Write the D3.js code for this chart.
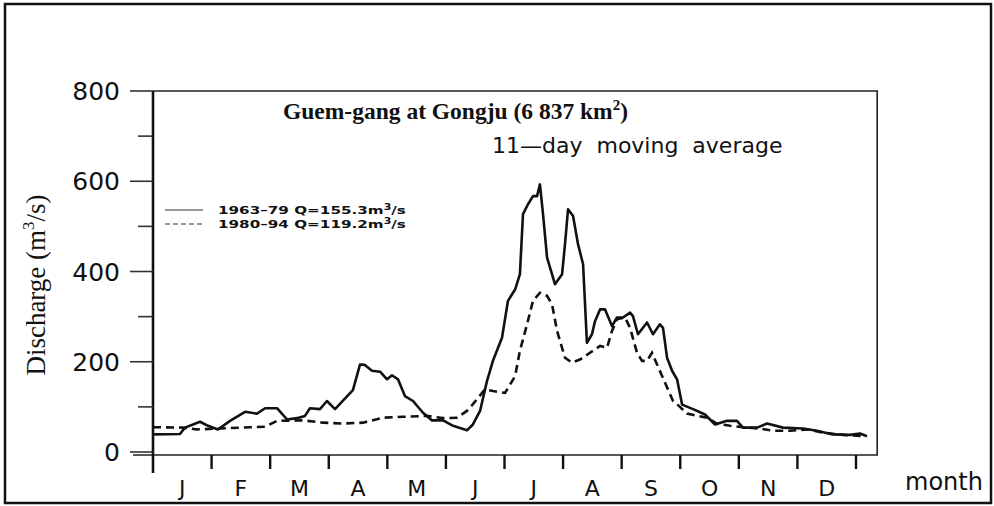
<!DOCTYPE html>
<html>
<head>
<meta charset="utf-8">
<script src="https://cdn.jsdelivr.net/npm/d3@7"></script>
<style>
  body { margin: 0; background: #fff; }
  svg { display: block; }
  .sans { font-family: 'DejaVu Sans', sans-serif; }
  .serif { font-family: 'Liberation Serif', 'Times New Roman', serif; }
</style>
</head>
<body>
<svg width="994" height="506"></svg>
<script>
// Data (day of year, discharge m3/s)
const months = ['J', 'F', 'M', 'A', 'M', 'J', 'J', 'A', 'S', 'O', 'N', 'D'];
const yTicks = [0, 200, 400, 600, 800];
const yMinor = [100, 300, 500, 700];

// 1963-79 (solid)
const earlyDay = [0, 14, 16.6, 24.4, 28.6, 33.7, 40, 47.8, 54, 58.2, 64.4, 69.6, 74.7, 78.9, 81.5, 86.7, 90.3, 94.5,
  103.8, 107.5, 110, 113.7, 117.9, 121.5, 124.1, 127.2, 130.8, 135, 140.2, 144.9, 150.6, 155.8, 163, 166.1, 169.8,
  173.4, 176.5, 181.2, 184.3, 188, 190.5, 192.1, 194.7, 197.3, 199.4, 200.9, 202.5, 204.6, 208.7, 212.4, 213.9,
  215.5, 218.1, 220.7, 223.3, 225.3, 227.9, 229.5, 232.1, 234.7, 238.3, 240.9, 244, 247.7, 249.2, 251.8, 256.5,
  259.6, 263.2, 264.8, 266.9, 269.5, 272.1, 274.7, 280.4, 286.6, 291.8, 298, 303.2, 306.3, 313.6, 318.8, 327.1,
  337.5, 344.7, 353, 361.9, 367.1, 370.7];
const earlyQ = [39, 40, 54, 67, 58, 50, 69, 89, 85, 97, 97, 72, 75, 80, 97, 95, 113, 95,
  137, 194, 193, 180, 178, 161, 170, 161, 124, 113, 87, 70, 70, 58, 48, 61, 91,
  157, 202, 253, 335, 360, 394, 527, 549, 567, 567, 593, 527, 431, 372, 394, 460,
  538, 523, 460, 416, 242, 261, 290, 316, 316, 279, 298, 298, 309, 301, 261, 287,
  261, 283, 275, 209, 180, 161, 105, 95, 83, 61, 69, 69, 54, 54, 63, 54,
  52, 47, 39, 38, 41, 35];

// 1980-94 (dashed)
const lateDay = [0, 15.6, 22.8, 34.8, 50.4, 58.2, 64.4, 77.9, 88.3, 98.6, 109, 119.4, 129.8, 142.3, 150.6, 157.8,
  163, 166.1, 172.4, 176.5, 182.8, 188, 190.5, 194.2, 197.3, 200.9, 204.6, 207.2, 209.8, 213.9, 217.5, 221.7,
  226.9, 232.1, 235.7, 238.3, 240.9, 245.1, 247.7, 251.3, 253.9, 256.5, 259.1, 261.7, 265.8, 270, 273.6, 277.3,
  287.6, 292.8, 299.6, 306.3, 315.1, 321.9, 330.7, 339.6, 347.9, 358.2, 368.6];
const lateQ = [55, 54, 50, 52, 55, 56, 69, 70, 65, 63, 65, 76, 78, 80, 75, 76,
  91, 106, 139, 135, 131, 168, 224, 283, 335, 353, 346, 327, 268, 209, 198, 205,
  220, 235, 231, 268, 294, 298, 275, 220, 202, 202, 220, 194, 154, 113, 100, 85,
  76, 63, 58, 55, 52, 47, 47, 50, 43, 38, 35];

const legendRows = [
  { label: '1963\u201379  Q=155.3m', dash: null },
  { label: '1980\u201394  Q=119.2m', dash: '5,3' }
];

const svg = d3.select('svg');

// Scales
const x = d3.scaleLinear().domain([0, 365]).range([153, 856]);
const y = d3.scaleLinear().domain([0, 800]).range([452, 91]);
const xEnd = x(376);

// Outer frame
svg.append('rect')
    .attr('x', 5).attr('y', 4)
    .attr('width', 986).attr('height', 499)
    .attr('fill', 'none')
    .attr('stroke', '#111')
    .attr('stroke-width', 2.5);

// Plot box (top, right, bottom)
svg.append('path')
    .attr('d', `M${x(0)},${y(800)} H${xEnd} V${y(0) + 3} H${x(0) - 20}`)
    .attr('fill', 'none')
    .attr('stroke', '#222')
    .attr('stroke-width', 1.6);

// Y axis
svg.append('line')
    .attr('x1', x(0)).attr('x2', x(0))
    .attr('y1', y(800)).attr('y2', y(0) + 21)
    .attr('stroke', '#111')
    .attr('stroke-width', 2.6);

svg.append('g').selectAll('line')
  .data(yTicks)
  .enter().append('line')
    .attr('x1', x(0) - 23).attr('x2', x(0))
    .attr('y1', d => y(d)).attr('y2', d => y(d))
    .attr('stroke', '#333')
    .attr('stroke-width', 1.6);

svg.append('g').selectAll('line')
  .data(yMinor)
  .enter().append('line')
    .attr('x1', x(0) - 15).attr('x2', x(0))
    .attr('y1', d => y(d)).attr('y2', d => y(d))
    .attr('stroke', '#333')
    .attr('stroke-width', 1.6);

svg.append('g').selectAll('text')
  .data(yTicks)
  .enter().append('text')
    .attr('class', 'sans')
    .attr('x', x(0) - 33)
    .attr('y', d => y(d) + 9)
    .attr('text-anchor', 'end')
    .attr('font-size', 25)
    .attr('fill', '#111')
    .text(d => d);

// X axis ticks (month boundaries) and month letters
svg.append('g').selectAll('line')
  .data(d3.range(1, 13))
  .enter().append('line')
    .attr('x1', d => x(d * 365 / 12)).attr('x2', d => x(d * 365 / 12))
    .attr('y1', y(0) + 3).attr('y2', y(0) + 17)
    .attr('stroke', '#111')
    .attr('stroke-width', 2.4);

svg.append('g').selectAll('text')
  .data(months)
  .enter().append('text')
    .attr('class', 'sans')
    .attr('x', (d, i) => x((i + 0.5) * 365 / 12))
    .attr('y', 496)
    .attr('text-anchor', 'middle')
    .attr('font-size', 22)
    .attr('fill', '#111')
    .text(d => d);

svg.append('text')
    .attr('class', 'sans')
    .attr('x', 944).attr('y', 490)
    .attr('text-anchor', 'middle')
    .attr('font-size', 24)
    .attr('fill', '#111')
    .text('month');

// Y label
const yLab = svg.append('text')
    .attr('class', 'serif')
    .attr('transform', 'translate(45,285) rotate(-90)')
    .attr('text-anchor', 'middle')
    .attr('font-size', 27)
    .attr('fill', '#111');
yLab.append('tspan').text('Discharge (m');
yLab.append('tspan').attr('dy', -11).attr('font-size', 17).text('3');
yLab.append('tspan').attr('dy', 11).text('/s)');

// Title
const title = svg.append('text')
    .attr('class', 'serif')
    .attr('x', 283).attr('y', 119)
    .attr('font-size', 23.5)
    .attr('font-weight', 'bold')
    .attr('fill', '#111');
title.append('tspan').text('Guem-gang at Gongju (6 837 km');
title.append('tspan').attr('dy', -9).attr('font-size', 15).text('2');
title.append('tspan').attr('dy', 9).text(')');

svg.append('text')
    .attr('class', 'sans')
    .attr('x', 492).attr('y', 153)
    .attr('font-size', 22)
    .attr('fill', '#111')
    .style('white-space', 'pre')
    .text('11\u2014day  moving  average');

// Lines
const line = d3.line()
    .x(d => x(d[0]))
    .y(d => y(d[1]))
    .curve(d3.curveLinear);

svg.append('path')
    .datum(d3.zip(earlyDay, earlyQ))
    .attr('d', line)
    .attr('fill', 'none')
    .attr('stroke', '#111')
    .attr('stroke-width', 2.6)
    .attr('stroke-linejoin', 'round');

svg.append('path')
    .datum(d3.zip(lateDay, lateQ))
    .attr('d', line)
    .attr('fill', 'none')
    .attr('stroke', '#111')
    .attr('stroke-width', 2.6)
    .attr('stroke-dasharray', '8,5');

// Legend (text stretched sideways like the scan)
const legend = svg.append('g').attr('transform', 'translate(165,210)');
legendRows.forEach((r, i) => {
  const rowY = i * 14;
  legend.append('line')
      .attr('x1', 0).attr('x2', 38)
      .attr('y1', rowY).attr('y2', rowY)
      .attr('stroke', '#333')
      .attr('stroke-width', 1.2)
      .attr('stroke-dasharray', r.dash);
  const t = legend.append('text')
      .attr('class', 'sans')
      .attr('transform', `translate(53,${rowY + 4}) scale(1.38,1)`)
      .attr('font-size', 11)
      .attr('font-weight', 'bold')
      .attr('fill', '#111');
  t.append('tspan').text(r.label);
  t.append('tspan').attr('dy', -4).attr('font-size', 8).text('3');
  t.append('tspan').attr('dy', 4).text('/s');
});
</script>
</body>
</html>
